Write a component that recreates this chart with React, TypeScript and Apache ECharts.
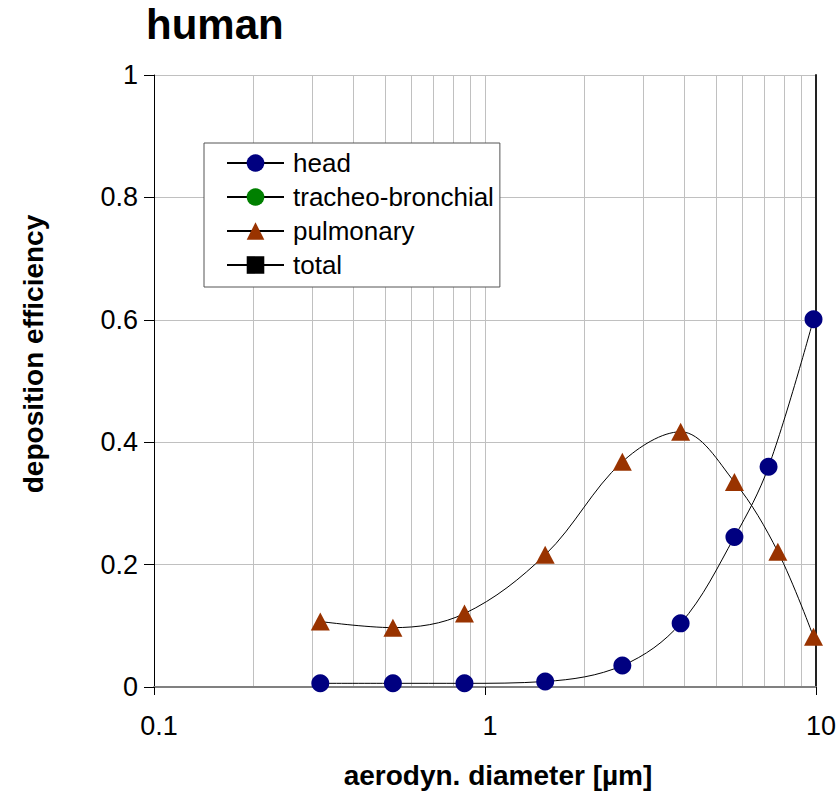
import React, { useEffect, useRef } from "react";
import * as echarts from "echarts";

const seriesNames = ["head", "tracheo-bronchial", "pulmonary", "total"];
const xHead = [0.318, 0.527, 0.867, 1.52, 2.6, 3.9, 5.67, 7.19, 9.83];
const yHead = [0.006, 0.006, 0.006, 0.009, 0.035, 0.104, 0.245, 0.36, 0.601];
const xPulm = [0.318, 0.527, 0.867, 1.52, 2.6, 3.9, 5.67, 7.67, 9.83];
const yPulm = [0.107, 0.097, 0.12, 0.216, 0.368, 0.417, 0.335, 0.221, 0.082];
const minorGridValues = [0.2, 0.3, 0.4, 0.5, 0.6, 0.7, 0.8, 0.9, 2, 3, 4, 5, 6, 7, 8, 9];

const FONT = '"Liberation Sans", Arial, sans-serif';

export default function App() {
  const ref = useRef<HTMLDivElement>(null);
  useEffect(() => {
    document.body.style.margin = "0";
    const chart = echarts.init(ref.current!, null, { renderer: "svg" });
    const pairs = (xs: number[], ys: number[]) => xs.map((x, i) => [x, ys[i]]);
    chart.setOption({
      animation: false,
      backgroundColor: "#ffffff",
      textStyle: { fontFamily: FONT },
      title: {
        text: "human",
        left: 146,
        top: 3,
        padding: 0,
        textStyle: { fontFamily: FONT, fontWeight: "bold", fontSize: 42, color: "#000" },
      },
      grid: { left: 154, right: 23, top: 75, bottom: 109, containLabel: false },
      legend: {
        orient: "vertical",
        left: 204,
        top: 143,
        padding: [7, 6, 9, 22],
        itemWidth: 57,
        itemHeight: 22,
        itemGap: 8,
        borderColor: "#555",
        borderWidth: 1,
        backgroundColor: "#fff",
        selectedMode: false,
        textStyle: { fontFamily: FONT, fontSize: 26, color: "#000", padding: [0, 0, 0, 4] },
        data: seriesNames,
      },
      xAxis: [
        {
          type: "log",
          logBase: 10,
          min: 0.1,
          max: 10,
          axisLine: { show: true, lineStyle: { color: "#000", width: 1 } },
          axisTick: { show: true, length: 8, lineStyle: { color: "#000" } },
          axisLabel: {
            fontFamily: FONT,
            fontSize: 27,
            color: "#000",
            margin: 25,
            padding: [0, 0, 0, 10],
          },
          splitLine: { show: true, lineStyle: { color: "#c0c0c0", width: 1 } },
          minorTick: { show: false },
          minorSplitLine: { show: false },
        },
        {
          type: "value",
          position: "top",
          min: 0,
          max: 1,
          axisLine: { show: true, lineStyle: { color: "#808080", width: 2 } },
          axisTick: { show: false },
          axisLabel: { show: false },
          splitLine: { show: false },
        },
      ],
      yAxis: [
        {
          type: "value",
          min: 0,
          max: 1,
          interval: 0.2,
          axisLine: { show: true, lineStyle: { color: "#000", width: 1 } },
          axisTick: { show: true, length: 10, lineStyle: { color: "#000" } },
          axisLabel: { fontFamily: FONT, fontSize: 27, color: "#000", margin: 16 },
          splitLine: { show: true, lineStyle: { color: "#c0c0c0", width: 1 } },
        },
        {
          type: "value",
          position: "right",
          min: 0,
          max: 1,
          axisLine: { show: true, lineStyle: { color: "#222", width: 2 } },
          axisTick: { show: false },
          axisLabel: { show: false },
          splitLine: { show: false },
        },
      ],
      graphic: [
        {
          type: "text",
          x: 498,
          y: 775,
          style: {
            text: "aerodyn. diameter [µm]",
            font: `bold 28px ${FONT}`,
            fill: "#000",
            align: "center",
            verticalAlign: "middle",
          },
        },
        {
          type: "text",
          x: 33,
          y: 354,
          rotation: Math.PI / 2,
          style: {
            text: "deposition efficiency",
            font: `bold 28px ${FONT}`,
            fill: "#000",
            align: "center",
            verticalAlign: "middle",
          },
        },
      ],
      series: [
        {
          name: "minor-grid",
          type: "line",
          data: [],
          silent: true,
          z: 0,
          markLine: {
            silent: true,
            z: 0,
            symbol: ["none", "none"],
            label: { show: false },
            lineStyle: { color: "#c0c0c0", width: 1, type: "solid" },
            emphasis: { disabled: true },
            data: minorGridValues.map((v) => ({ xAxis: v })),
          },
        },
        {
          name: "head",
          type: "line",
          data: pairs(xHead, yHead),
          smooth: 0.35,
          symbol: "circle",
          symbolSize: 18,
          itemStyle: { color: "#000080" },
          lineStyle: { color: "#000", width: 1 },
          z: 3,
        },
        {
          name: "tracheo-bronchial",
          type: "line",
          data: [],
          symbol: "circle",
          symbolSize: 18,
          itemStyle: { color: "#008000" },
          lineStyle: { color: "#000", width: 2 },
        },
        {
          name: "pulmonary",
          type: "line",
          data: pairs(xPulm, yPulm),
          smooth: 0.35,
          symbol: "triangle",
          symbolSize: [19, 18],
          itemStyle: { color: "#993300" },
          lineStyle: { color: "#000", width: 1 },
          z: 3,
        },
        {
          name: "total",
          type: "line",
          data: [],
          symbol: "rect",
          symbolSize: 18,
          itemStyle: { color: "#000" },
          lineStyle: { color: "#000", width: 1 },
        },
      ],
    });
    return () => chart.dispose();
  }, []);
  return (
    <div
      ref={ref}
      style={{ position: "fixed", left: 0, top: 0, width: 839, height: 796 }}
    />
  );
}
